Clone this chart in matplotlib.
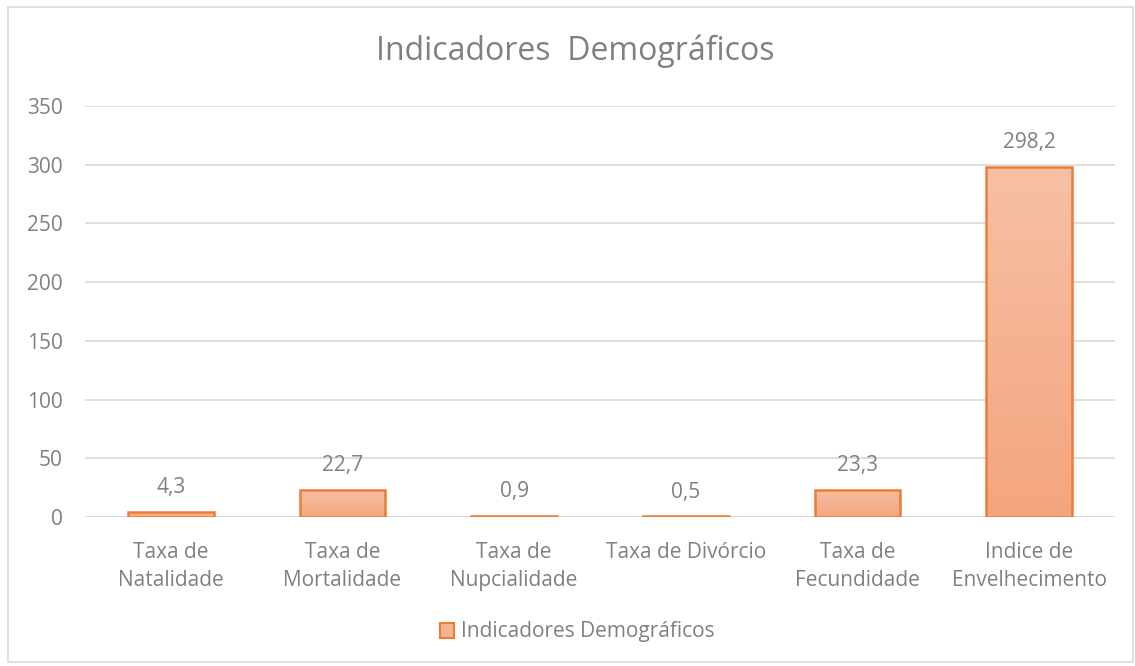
import numpy as np
import matplotlib
matplotlib.use("Agg")
from matplotlib import pyplot as plt
from matplotlib.patches import Rectangle

categories = ["Taxa de\nNatalidade", "Taxa de\nMortalidade", "Taxa de\nNupcialidade",
              "Taxa de Divórcio", "Taxa de\nFecundidade", "Indice de\nEnvelhecimento"]
values = [4.3, 22.7, 0.9, 0.5, 23.3, 298.2]
labels = ["4,3", "22,7", "0,9", "0,5", "23,3", "298,2"]
yticks = [0, 50, 100, 150, 200, 250, 300, 350]

txt = "#808080"
edge = "#ED7D31"
plt.rcParams['font.family'] = ['Open Sans', 'DejaVu Sans']

fig = plt.figure(figsize=(11.35, 6.66), dpi=100)
ax = fig.add_axes([85/1135, 1-517/666, 1030/1135, 411/666])

# chart border
fig.patches.append(Rectangle((8/1135, 1-662/666), 1125/1135, 655/666, transform=fig.transFigure,
                             fill=False, edgecolor="#D9D9D9", linewidth=1.2))

x = np.arange(len(values))
width = 0.5
bars = ax.bar(x, values, width=width, color="none", edgecolor=edge, linewidth=1.8, zorder=3)

# vertical gradient fill like excel
grad = np.linspace(0, 1, 256).reshape(-1, 1)
cmap = matplotlib.colors.LinearSegmentedColormap.from_list("g", ["#F4A57E", "#F7C0A5"])
for b in bars:
    x0, y0 = b.get_x(), b.get_y()
    im = ax.imshow(grad, extent=(x0, x0 + b.get_width(), y0, y0 + b.get_height()),
                   origin="lower", aspect="auto", cmap=cmap, zorder=2)
    im.set_clip_path(b)

for xi, v, lab in zip(x, values, labels):
    ax.annotate(lab, (xi, v), xytext=(0, 10), textcoords="offset points",
                ha="center", va="bottom", fontsize=15, color=txt)

ax.set_xlim(-0.5, len(values) - 0.5)
ax.set_ylim(0, 350)
ax.set_yticks(yticks)
ax.set_yticklabels([str(t) for t in yticks], fontsize=15, color=txt)
ax.set_xticks(x)
ax.set_xticklabels(categories, fontsize=15, color=txt, linespacing=1.45)
ax.tick_params(axis="y", length=0, pad=16)
ax.tick_params(axis="x", length=0, pad=18)
ax.grid(axis="y", color="#D9D9D9", linewidth=1.2, zorder=0)
ax.set_axisbelow(True)
for s in ax.spines.values():
    s.set_visible(False)
ax.axhline(0, color="#D9D9D9", linewidth=1.2, zorder=1)

fig.text(575/1135, 1-51/666, "Indicadores  Demográficos", ha="center", va="center", fontsize=23, color=txt)

handle = Rectangle((0, 0), 1, 1, facecolor="#F6B394", edgecolor=edge, linewidth=1.5)
fig.legend([handle], ["Indicadores Demográficos"], loc="center", bbox_to_anchor=(577/1135, 1-632/666),
           frameon=False, fontsize=15, labelcolor=txt, handlelength=0.7, handleheight=0.7, handletextpad=0.3)

fig.savefig("out.png", dpi=100)
